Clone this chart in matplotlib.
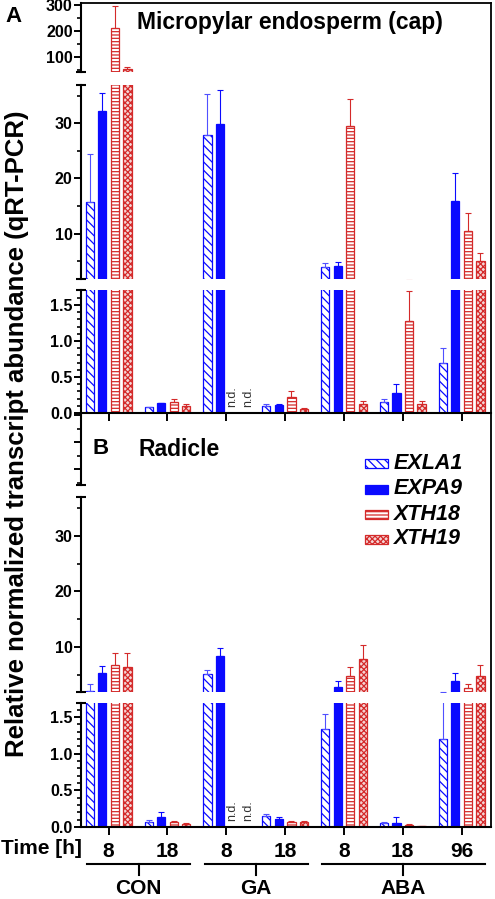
import numpy as np
import matplotlib
matplotlib.use('Agg')
import matplotlib.pyplot as plt
from matplotlib.patches import Rectangle
from matplotlib.lines import Line2D
from matplotlib.transforms import blended_transform_factory

plt.rcParams['font.family'] = ['Liberation Sans', 'DejaVu Sans']
plt.rcParams['hatch.linewidth'] = 0.9

# ---------------- data ----------------
time_labels = ['8', '18', '8', '18', '8', '18', '96']
groups = ['CON', 'GA', 'ABA']
group_span = [(0, 1), (2, 3), (4, 6)]
genes = ['EXLA1', 'EXPA9', 'XTH18', 'XTH19']
nan = np.nan

# Panel A: micropylar endosperm (cap)
capEXLA1 = [15.8, 0.08, 27.8, 0.10, 4.0, 0.15, 0.70]
capEXLA1_err = [8.6, 0.01, 7.5, 0.025, 0.7, 0.05, 0.20]
capEXPA9 = [32.2, 0.14, 29.8, 0.11, 4.2, 0.28, 16.0]
capEXPA9_err = [3.3, 0.005, 6.2, 0.02, 0.7, 0.13, 4.9]
capXTH18 = [211, 0.15, nan, 0.22, 29.5, 1.28, 10.5]
capXTH18_err = [85, 0.04, nan, 0.09, 4.9, 0.41, 3.3]
capXTH19 = [54, 0.10, nan, 0.06, 0.13, 0.13, 5.1]
capXTH19_err = [8, 0.02, nan, 0.01, 0.04, 0.04, 1.4]

# Panel B: radicle
radEXLA1 = [2.1, 0.07, 5.1, 0.15, 1.34, 0.05, 1.20]
radEXLA1_err = [1.2, 0.02, 0.8, 0.03, 0.20, 0.02, 0.75]
radEXPA9 = [5.3, 0.14, 8.4, 0.11, 2.8, 0.06, 3.9]
radEXPA9_err = [1.3, 0.07, 1.4, 0.03, 1.1, 0.08, 1.4]
radXTH18 = [6.8, 0.07, nan, 0.07, 4.8, 0.03, 2.6]
radXTH18_err = [2.1, 0.01, nan, 0.005, 1.6, 0.005, 0.7]
radXTH19 = [6.4, 0.04, nan, 0.07, 7.8, 0.01, 4.8]
radXTH19_err = [2.5, 0.01, nan, 0.005, 2.6, 0.005, 2.0]

panelA = [(capEXLA1, capEXLA1_err), (capEXPA9, capEXPA9_err),
          (capXTH18, capXTH18_err), (capXTH19, capXTH19_err)]
panelB = [(radEXLA1, radEXLA1_err), (radEXPA9, radEXPA9_err),
          (radXTH18, radXTH18_err), (radXTH19, radXTH19_err)]

# ---------------- styles ----------------
BLUE = '#0a0aff'
RED = '#d42a2a'
styles = [
    dict(facecolor='white', edgecolor=BLUE, hatch='\\\\\\\\'),
    dict(facecolor=BLUE, edgecolor=BLUE),
    dict(facecolor='white', edgecolor=RED, hatch='-----'),
    dict(facecolor='#f4d4d4', edgecolor=RED, hatch='xxxxxx'),
]
err_colors = ['#5050ff', BLUE, RED, RED]
offsets = [-0.32, -0.107, 0.107, 0.32]
nd_shift = [0.0, 0.0, -0.01, 0.045]
bar_w = 0.14
x = np.arange(len(time_labels))

W, H = 495, 899
fig = plt.figure(figsize=(W / 100, H / 100), dpi=100)
LEFT, RIGHT = 81, 491


def rect(top, bottom):
    return [LEFT / W, 1 - bottom / H, (RIGHT - LEFT) / W, (bottom - top) / H]


segA = [(3, 72, (42, 308)), (85, 279, (1.8, 36.9)), (290, 413, (0, 1.71))]
segB = [(413, 485, (42, 308)), (497, 692, (1.9, 37.0)), (703, 827, (0, 1.69))]

TICKFS = 11.5


def make_panel(segs, data, show_top_labels, show_xlabels):
    axes = []
    for k, (top, bottom, ylim) in enumerate(segs):
        ax = fig.add_axes(rect(top, bottom))
        ax.set_facecolor('none')
        ax.set_xlim(-0.47, 6.5)
        ax.set_ylim(*ylim)
        for s in ['top', 'right']:
            ax.spines[s].set_visible(False)
        ax.spines['left'].set_linewidth(1.5)
        ax.spines['bottom'].set_linewidth(1.5)
        for g, ((vals, errs), st) in enumerate(zip(data, styles)):
            v = np.array(vals, float)
            e = np.array(errs, float)
            ok = ~np.isnan(v)
            ax.bar(x[ok] + offsets[g], v[ok], width=bar_w, linewidth=0.9, **st)
            ax.errorbar(x[ok] + offsets[g], v[ok], yerr=[np.zeros(ok.sum()), e[ok]],
                        fmt='none', ecolor=err_colors[g], elinewidth=0.8,
                        capsize=2.5, capthick=0.8)
        ax.tick_params(axis='y', which='major', direction='out', length=5, width=1.4,
                       labelsize=TICKFS, pad=1)
        ax.tick_params(axis='y', which='minor', direction='out', length=3, width=1.2)
        if k == 0:
            ax.set_yticks([100, 200, 300])
            ax.set_yticks([50, 150, 250], minor=True)
            if not show_top_labels:
                ax.set_yticklabels([])
        elif k == 1:
            ax.set_yticks([10, 20, 30])
            ax.set_yticks([5, 15, 25, 35], minor=True)
        else:
            ax.set_yticks([0, 0.5, 1.0, 1.5])
            ax.set_yticklabels(['0.0', '0.5', '1.0', '1.5'])
            ax.set_yticks(np.arange(0.1, 1.7, 0.1), minor=True)
        for lab in ax.get_yticklabels():
            lab.set_fontweight('bold')
        if k < 2:
            ax.spines['bottom'].set_visible(False)
            ax.set_xticks([])
            ax.plot([0], [0], marker='_', ms=7, mew=1.5, color='k',
                    transform=ax.transAxes, clip_on=False)
        else:
            ax.set_xticks(x)
            ax.tick_params(axis='x', direction='out', length=6, width=1.4, pad=5)
            if show_xlabels:
                ax.set_xticklabels(time_labels, fontsize=15, fontweight='bold')
            else:
                ax.set_xticklabels([])
        if k > 0:
            ax.plot([0], [1], marker='_', ms=7, mew=1.5, color='k',
                    transform=ax.transAxes, clip_on=False)
        axes.append(ax)
    # n.d. labels
    low = axes[2]
    for g in range(4):
        for i, v in enumerate(data[g][0]):
            if np.isnan(v):
                low.text(x[i] + offsets[g] + nd_shift[g], 0.08, 'n.d.', rotation=90,
                         ha='center', va='bottom', fontsize=9, color='#333333')
    return axes


axesA = make_panel(segA, panelA, True, False)
axesB = make_panel(segB, panelB, False, True)

# outer border (top and right)
fig.add_artist(Line2D([LEFT / W, RIGHT / W], [1 - 3 / H, 1 - 3 / H],
                      transform=fig.transFigure, color='k', lw=1.3))
fig.add_artist(Line2D([RIGHT / W, RIGHT / W], [1 - 3 / H, 1 - 827 / H],
                      transform=fig.transFigure, color='k', lw=1.3))

# panel titles
fig.text(5 / W, 1 - 16 / H, 'A', fontsize=16, fontweight='bold', va='center')
fig.text(137 / W, 1 - 22 / H, 'Micropylar endosperm (cap)', fontsize=16.5,
         fontweight='bold', va='center')
fig.text(92 / W, 1 - 449 / H, 'B', fontsize=16, fontweight='bold', va='center')
fig.text(138 / W, 1 - 449 / H, 'Radicle', fontsize=16.5, fontweight='bold', va='center')

# y label
fig.text(17 / W, 1 - 434 / H, 'Relative normalized transcript abundance (qRT-PCR)',
         rotation=90, ha='center', va='center', fontsize=18.5, fontweight='bold')

# legend (manual)
leg_y = [463, 489, 514, 539]
for g, name in enumerate(genes):
    yc = leg_y[g]
    fig.add_artist(Rectangle((365 / W, 1 - (yc + 4.5) / H), 23 / W, 9 / H,
                             transform=fig.transFigure, linewidth=0.9, **styles[g]))
    fig.text(394 / W, 1 - yc / H, name, fontsize=15.5, fontweight='bold',
             fontstyle='italic', va='center')

# x axis annotations
lowB = axesB[2]
fig.text(82 / W, 1 - 849 / H, 'Time [h]', fontsize=15, fontweight='bold',
         ha='right', va='center')
tr = blended_transform_factory(lowB.transData, fig.transFigure)
for name, (i0, i1) in zip(groups, group_span):
    xa, xb = i0 - 0.37, i1 + 0.39
    yl = 1 - 864 / H
    lowB.add_line(Line2D([xa, xb], [yl, yl], transform=tr, color='k', lw=1.5,
                         clip_on=False))
    xc = (xa + xb) / 2
    lowB.add_line(Line2D([xc, xc], [yl, 1 - 875 / H], transform=tr, color='k',
                         lw=1.5, clip_on=False))
    lowB.text(xc, 1 - 889 / H, name, transform=tr, ha='center', va='center',
              fontsize=15, fontweight='bold')

fig.savefig('out.png', dpi=100)
